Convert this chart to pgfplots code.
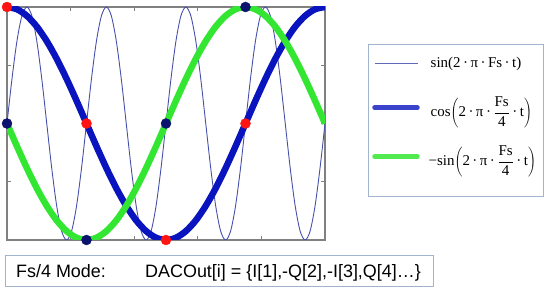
\documentclass[border=0pt]{standalone}
\usepackage{pgfplots}
\pgfplotsset{compat=1.18}
\usepackage{fontspec}
\setmainfont{Liberation Serif}
\newfontfamily\arial{Liberation Sans}
\definecolor{thinc}{RGB}{70,80,170}
\definecolor{thickb}{RGB}{10,20,190}
\definecolor{greenc}{RGB}{50,230,50}
\definecolor{navyc}{RGB}{10,20,110}
\definecolor{redc}{RGB}{255,20,20}
\definecolor{framec}{RGB}{128,128,128}
\definecolor{boxc}{RGB}{160,180,205}
\pgfplotstableread{
t y
0 0
0.0625 0.3827
0.125 0.7071
0.1875 0.9239
0.25 1
0.3125 0.9239
0.375 0.7071
0.4375 0.3827
0.5 0
0.5625 -0.3827
0.625 -0.7071
0.6875 -0.9239
0.75 -1
0.8125 -0.9239
0.875 -0.7071
0.9375 -0.3827
1 0
1.0625 0.3827
1.125 0.7071
1.1875 0.9239
1.25 1
1.3125 0.9239
1.375 0.7071
1.4375 0.3827
1.5 0
1.5625 -0.3827
1.625 -0.7071
1.6875 -0.9239
1.75 -1
1.8125 -0.9239
1.875 -0.7071
1.9375 -0.3827
2 0
2.0625 0.3827
2.125 0.7071
2.1875 0.9239
2.25 1
2.3125 0.9239
2.375 0.7071
2.4375 0.3827
2.5 0
2.5625 -0.3827
2.625 -0.7071
2.6875 -0.9239
2.75 -1
2.8125 -0.9239
2.875 -0.7071
2.9375 -0.3827
3 0
3.0625 0.3827
3.125 0.7071
3.1875 0.9239
3.25 1
3.3125 0.9239
3.375 0.7071
3.4375 0.3827
3.5 0
3.5625 -0.3827
3.625 -0.7071
3.6875 -0.9239
3.75 -1
3.8125 -0.9239
3.875 -0.7071
3.9375 -0.3827
4 0
}\thinsin
\pgfplotstableread{
t c s
0 1 0
0.125 0.9808 -0.1951
0.25 0.9239 -0.3827
0.375 0.8315 -0.5556
0.5 0.7071 -0.7071
0.625 0.5556 -0.8315
0.75 0.3827 -0.9239
0.875 0.1951 -0.9808
1 0 -1
1.125 -0.1951 -0.9808
1.25 -0.3827 -0.9239
1.375 -0.5556 -0.8315
1.5 -0.7071 -0.7071
1.625 -0.8315 -0.5556
1.75 -0.9239 -0.3827
1.875 -0.9808 -0.1951
2 -1 0
2.125 -0.9808 0.1951
2.25 -0.9239 0.3827
2.375 -0.8315 0.5556
2.5 -0.7071 0.7071
2.625 -0.5556 0.8315
2.75 -0.3827 0.9239
2.875 -0.1951 0.9808
3 0 1
3.125 0.1951 0.9808
3.25 0.3827 0.9239
3.375 0.5556 0.8315
3.5 0.7071 0.7071
3.625 0.8315 0.5556
3.75 0.9239 0.3827
3.875 0.9808 0.1951
4 1 0
}\slow
\newcommand{\frc}{\mbox{2\,·\,π\,·\,}{\displaystyle\frac{\mbox{Fs}}{\mbox{4}}}\mbox{\,·\,t}}
\begin{document}
\begin{tikzpicture}
\useasboundingbox (0,0) rectangle (550bp,294bp);
\draw[boxc, line width=1bp] (368bp,97bp) rectangle (543bp,249bp);
\begin{axis}[
  at={(7bp,54bp)}, anchor=south west,
  scale only axis, width=318bp, height=233bp,
  xmin=0, xmax=4, ymin=-1, ymax=1,
  xtick={0,0.8,1.6,2.4,3.2,4}, xticklabels={},
  ytick={-1,-0.5,0,0.5,1}, yticklabels={},
  tick align=inside, major tick length=4bp,
  every tick/.style={framec, line width=1pt},
  axis line style={framec, line width=1.3pt},
  legend image code/.code={\draw[#1] (1bp,0bp) -- (44bp,0bp);},
  legend style={at={(1.148,0.794)}, anchor=north west, draw=none, fill=none,
    inner xsep=0bp, inner ysep=2bp, row sep=28bp, column sep=0bp,
    font=\fontsize{15}{17}\selectfont,
    nodes={inner xsep=0bp, inner ysep=0bp}},
  legend cell align=left,
]
\addplot[thinc, line width=0.9pt, smooth, forget plot] table[x=t,y=y] {\thinsin};
\addplot[thickb, line width=6.5pt, smooth, forget plot] table[x=t,y=c] {\slow};
\addplot[greenc, line width=6.5pt, smooth, forget plot] table[x=t,y=s] {\slow};
\addplot[only marks, mark=*, mark size=5bp, redc, forget plot] coordinates {(0,1) (1,0) (2,-1) (3,0)};
\addplot[only marks, mark=*, mark size=5bp, navyc, forget plot] coordinates {(0,0) (1,-1) (2,0) (3,1)};
\addlegendimage{thinc!85!white, line width=1.2pt}
\addlegendentry{\hspace{11bp}sin(2\,·\,π\,·\,Fs\,·\,t)}
\addlegendimage{thickb!80!white, line width=4.5pt, line cap=round}
\addlegendentry{\hspace{11bp}cos$\left(\frc\right)$}
\addlegendimage{greenc!85!white, line width=4.5pt, line cap=round}
\addlegendentry{\hspace{9bp}−sin$\left(\frc\right)$}
\end{axis}
\draw[boxc, line width=1bp] (5bp,7bp) rectangle (433bp,38bp);
\node[anchor=base west, inner sep=0pt, font=\arial\fontsize{18}{20}\selectfont] at (16bp,17bp) {Fs/4 Mode:};
\node[anchor=base west, inner sep=0pt, font=\arial\fontsize{18}{20}\selectfont] at (145bp,17bp) {DACOut[i] = \{I[1],-Q[2],-I[3],Q[4]…\}};
\end{tikzpicture}
\end{document}
